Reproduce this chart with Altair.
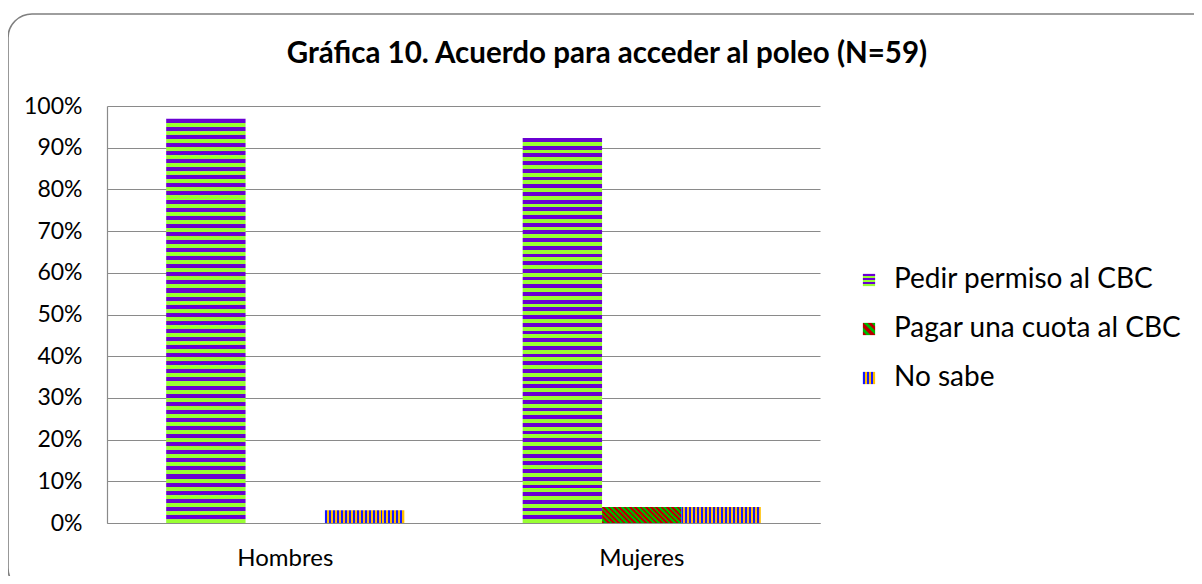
import altair as alt
import pandas as pd

# ---------------- data ----------------
categorias = ["Hombres", "Mujeres"]
series = ["Pedir permiso al CBC", "Pagar una cuota al CBC", "No sabe"]
hombres = [0.9697, 0.0, 0.0303]
mujeres = [0.9231, 0.0385, 0.0385]
y_ticks = [0.0, 0.1, 0.2, 0.3, 0.4, 0.5, 0.6, 0.7, 0.8, 0.9, 1.0]
titulo = "Gráfica 10. Acuerdo para acceder al poleo (N=59)"

rows = []
for s, h, m in zip(series, hombres, mujeres):
    rows.append({"categoria": "Hombres", "serie": s, "valor": h})
    rows.append({"categoria": "Mujeres", "serie": s, "valor": m})
df = pd.DataFrame(rows)

# ---------------- style ----------------
FONT = "Lato"
GRAY = "#8a8a8a"
W, H = 713, 417

PURPLE, LIME = "#6a00d2", "#99ff33"
RED, GREEN = "#b80000", "#00b400"
BLUE, GOLD = "#1a1aff", "#ffc000"


def stripes(c1, c2, n):
    stops = []
    for k in range(n):
        a = round(k / n, 5)
        b = round((k + 0.5) / n, 5)
        c = round((k + 1) / n, 5)
        stops += [
            alt.GradientStop(offset=a, color=c1),
            alt.GradientStop(offset=b, color=c1),
            alt.GradientStop(offset=b, color=c2),
            alt.GradientStop(offset=c, color=c2),
        ]
    return stops


bar_fill = {
    series[0]: alt.LinearGradient(gradient="linear", stops=stripes(PURPLE, LIME, 50),
                                  x1=0, y1=0, x2=0, y2=1),
    series[1]: alt.LinearGradient(gradient="linear", stops=stripes(RED, GREEN, 18),
                                  x1=0, y1=1, x2=1.155, y2=0.766),
    series[2]: alt.LinearGradient(gradient="linear", stops=stripes(BLUE, GOLD, 20),
                                  x1=0, y1=0, x2=1, y2=0),
}
legend_fill = {
    series[0]: alt.LinearGradient(gradient="linear", stops=stripes(PURPLE, LIME, 3),
                                  x1=0, y1=0, x2=0, y2=1),
    series[1]: alt.LinearGradient(gradient="linear", stops=stripes(RED, GREEN, 3),
                                  x1=0, y1=1, x2=1, y2=0),
    series[2]: alt.LinearGradient(gradient="linear", stops=stripes(BLUE, GOLD, 3),
                                  x1=0, y1=0, x2=1, y2=0),
}

x_enc = alt.X(
    "categoria:N",
    sort=categorias,
    scale=alt.Scale(domain=categorias, paddingInner=0.332, paddingOuter=0.166),
    axis=alt.Axis(title=None, labelAngle=0, labelFont=FONT, labelFontSize=24,
                  labelColor="#000000", labelPadding=23, ticks=False,
                  domainColor=GRAY, domainWidth=1.2, grid=False),
)
xoff_enc = alt.XOffset("serie:N", sort=series,
                       scale=alt.Scale(domain=series, paddingInner=0, paddingOuter=0))
y_enc = alt.Y(
    "valor:Q",
    scale=alt.Scale(domain=[0, 1], nice=False, zero=True),
    axis=alt.Axis(title=None, values=y_ticks, format=".0%", labelFont=FONT,
                  labelFontSize=23, labelColor="#000000", labelPadding=25,
                  ticks=False, domainColor=GRAY, domainWidth=1.2, grid=True,
                  gridColor=GRAY, gridWidth=1.2),
)

layers = []

# outer rounded frame
frame = alt.Chart(pd.DataFrame({"k": [0]})).mark_rect(
    fillOpacity=0, stroke="#7f7f7f", strokeWidth=1.6, cornerRadius=24
).encode(x=alt.value(-99), x2=alt.value(1113), y=alt.value(-92), y2=alt.value(486))
layers.append(frame)

# bars, one layer per series (each with its own pattern)
for s in series:
    layers.append(
        alt.Chart(df).transform_filter(alt.datum.serie == s)
        .mark_bar(fill=bar_fill[s], stroke=None)
        .encode(x=x_enc, xOffset=xoff_enc, y=y_enc)
    )

# legend
for i, s in enumerate(series):
    ldf = pd.DataFrame({"serie": [s]})
    yy = 174 + 49 * i
    layers.append(
        alt.Chart(ldf).mark_square(fill=legend_fill[s], size=150, opacity=1)
        .encode(x=alt.value(762), y=alt.value(yy))
    )
    layers.append(
        alt.Chart(ldf).mark_text(align="left", baseline="middle", font=FONT,
                                 fontSize=28, color="#000000")
        .encode(text="serie:N", x=alt.value(787), y=alt.value(yy))
    )

# title
layers.append(
    alt.Chart(pd.DataFrame({"t": [titulo]})).mark_text(
        align="center", baseline="middle", font=FONT, fontSize=29.5,
        fontWeight="bold", color="#000000"
    ).encode(text="t:N", x=alt.value(500), y=alt.value(-52))
)

chart = (
    alt.layer(*layers)
    .properties(width=W, height=H, autosize=alt.AutoSizeParams(type="none"),
                padding={"left": 99, "top": 98, "right": 374, "bottom": 53},
                background="#ffffff")
    .configure_view(stroke=None)
)

chart.save("out.html", embed_options={"renderer": "svg", "actions": False})
